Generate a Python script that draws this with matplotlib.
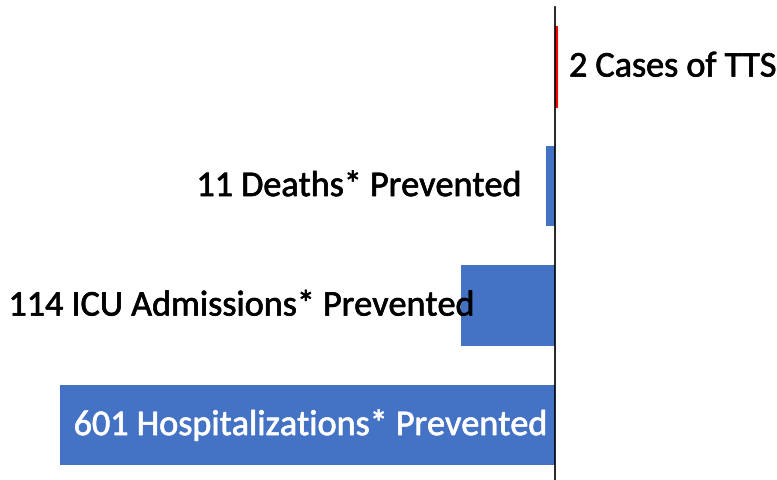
import matplotlib
matplotlib.use("Agg")
import matplotlib.pyplot as plt
import matplotlib.patheffects as pe

# outcomes, bottom to top
labels = ["601 Hospitalizations* Prevented", "114 ICU Admissions* Prevented",
          "11 Deaths* Prevented", "2 Cases of TTS"]
values = [-601, -114, -11, 2]
colors = ["#4472C4", "#4472C4", "#4472C4", "#FF0000"]
text_colors = ["white", "black", "black", "black"]

fig = plt.figure(figsize=(7.77, 4.81), dpi=100)
ax = fig.add_axes([0, 0, 1, 1])

y = range(len(values))
bars = ax.barh(y, values, height=0.67, color=colors)
bars[3].set_linewidth(0.8)
bars[3].set_edgecolor("#FF0000")

ax.set_xlim(-673.5, 269.4)
ax.set_ylim(-0.46, 3.565)
ax.axvline(0, ymin=0, ymax=473 / 481, color="black", lw=1.2)

# label anchors (x in data units, ha)
anchors = [(-8, "right"), (-97, "right"), (-40, "right"), (17, "left")]
for i, (lab, (x, ha)) in enumerate(zip(labels, anchors)):
    ax.text(x, i, lab, ha=ha, va="center", fontsize=26, color=text_colors[i],
            family="Carlito",
            path_effects=[pe.withStroke(linewidth=0.5, foreground=text_colors[i])])

ax.axis("off")
fig.savefig("out.png", dpi=100)
